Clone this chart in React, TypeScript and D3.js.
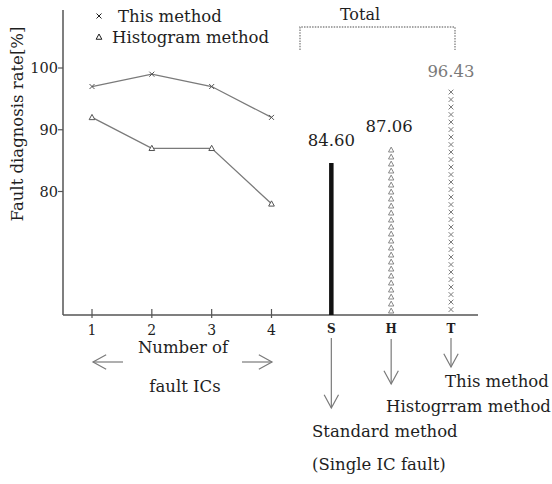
import React from 'react';
import * as d3 from 'd3';

// 故障 IC 数量（1〜4）
const icCounts = [1, 2, 3, 4];
const thisMethod = [97, 99, 97, 92];
const histogramMethod = [92, 87, 87, 78];

// 单一 IC 故障的总计
const totalLabels = ['S', 'H', 'T'];
const totalPositions = [5, 6, 7];
const totalValues = [84.6, 87.06, 96.43];

const yTicks = [80, 90, 100];

const W = 552;
const H = 484;
const FONT = '"DejaVu Serif", serif';
const GREY = '#7a7a7a';
const INK = '#1e1e1e';

const xMark = (s: number) => `M${-s},${-s}L${s},${s}M${-s},${s}L${s},${-s}`;
const triMark = (s: number) => `M0,${-s}L${s * 0.95},${s * 0.75}L${-s * 0.95},${s * 0.75}Z`;

const Arrow: React.FC<{ x1: number; y1: number; x2: number; y2: number }> = ({ x1, y1, x2, y2 }) => {
  const a = Math.atan2(y2 - y1, x2 - x1);
  const len = 15;
  const spread = 0.5;
  const p1 = [x2 - len * Math.cos(a - spread), y2 - len * Math.sin(a - spread)];
  const p2 = [x2 - len * Math.cos(a + spread), y2 - len * Math.sin(a + spread)];
  return (
    <g stroke={GREY} strokeWidth={1.2} fill="none">
      <line x1={x1} y1={y1} x2={x2} y2={y2} />
      <path d={`M${p1[0]},${p1[1]}L${x2},${y2}L${p2[0]},${p2[1]}`} />
    </g>
  );
};

const App: React.FC = () => {
  const x = d3.scaleLinear().domain([1, 7]).range([92, 451]);
  const y = d3.scaleLinear().domain([60, 100]).range([315, 68]);

  const axisX0 = 63;
  const axisX1 = 478;
  const baseY = y(60);

  const line = d3.line<number>().x((_, i) => x(icCounts[i])).y(d => y(d));

  // 柱状列上的标记：从数值处往下堆叠到基线
  const stack = (v: number, step: number) => d3.range(y(v) + 2, baseY - 1, step);

  return (
    <svg width={W} height={H} style={{ position: 'absolute', left: 0, top: 0, background: '#fff' }}
      fontFamily={FONT}>
      {/* 坐标轴 */}
      <line x1={axisX0} y1={10} x2={axisX0} y2={baseY} stroke="#555" strokeWidth={1.5} />
      <line x1={axisX0} y1={baseY} x2={axisX1} y2={baseY} stroke="#555" strokeWidth={1.5} />

      {yTicks.map(t => (
        <g key={t}>
          <line x1={axisX0 - 5} x2={axisX0} y1={y(t)} y2={y(t)} stroke="#555" strokeWidth={1.2} />
          <text x={axisX0 - 5} y={y(t) + 5} textAnchor="end" fontSize={14.5} fill={INK}>{t}</text>
        </g>
      ))}

      {icCounts.map(c => (
        <g key={c}>
          <line x1={x(c)} x2={x(c)} y1={baseY - 6} y2={baseY + 3} stroke="#555" strokeWidth={1.2} />
          <text x={x(c)} y={baseY + 20} textAnchor="middle" fontSize={14} fill={INK}>{c}</text>
        </g>
      ))}
      {totalLabels.map((l, i) => (
        <text key={l} x={x(totalPositions[i])} y={baseY + 18} textAnchor="middle" fontSize={12}
          fontWeight="bold" fill={INK}>{l}</text>
      ))}

      {/* y 轴标题 */}
      <text transform={`translate(23,124) rotate(-90)`} textAnchor="middle" fontSize={16.5} fill={INK}>
        Fault diagnosis rate[%]
      </text>

      {/* 折线 */}
      <path d={line(thisMethod) || ''} fill="none" stroke={GREY} strokeWidth={1.3} />
      <path d={line(histogramMethod) || ''} fill="none" stroke={GREY} strokeWidth={1.3} />
      {thisMethod.map((v, i) => (
        <path key={`t${i}`} d={xMark(2.5)} transform={`translate(${x(icCounts[i])},${y(v)})`}
          stroke="#555" strokeWidth={1} fill="none" />
      ))}
      {histogramMethod.map((v, i) => (
        <path key={`h${i}`} d={triMark(3)} transform={`translate(${x(icCounts[i])},${y(v)})`}
          stroke="#555" strokeWidth={1} fill="#fff" />
      ))}

      {/* 图例 */}
      <path d={xMark(2.5)} transform="translate(99,16)" stroke={INK} strokeWidth={1} fill="none" />
      <text x={118} y={22} fontSize={16.5} fill={INK}>This method</text>
      <path d={triMark(3)} transform="translate(99,37)" stroke={INK} strokeWidth={1} fill="none" />
      <text x={112} y={43} fontSize={16.5} fill={INK}>Histogram method</text>

      {/* 总计：S 粗线，H 三角列，T 叉列 */}
      <line x1={x(5)} x2={x(5)} y1={y(totalValues[0])} y2={baseY} stroke="#111" strokeWidth={4.5} />
      {stack(totalValues[1], 7).map((py, i) => (
        <path key={`hs${i}`} d={triMark(2.8)} transform={`translate(${x(6)},${py})`}
          stroke={GREY} strokeWidth={0.9} fill="none" />
      ))}
      {stack(totalValues[2], 7.5).map((py, i) => (
        <path key={`ts${i}`} d={xMark(2.4)} transform={`translate(${x(7)},${py})`}
          stroke={GREY} strokeWidth={1} fill="none" />
      ))}

      <text x={x(5)} y={y(totalValues[0]) - 17} textAnchor="middle" fontSize={16.5} fill={INK}>84.60</text>
      <text x={x(6) - 2} y={y(totalValues[1]) - 16} textAnchor="middle" fontSize={16.5} fill={INK}>87.06</text>
      <text x={x(7)} y={y(totalValues[2]) - 13} textAnchor="middle" fontSize={16.5} fill={GREY}>96.43</text>

      {/* Total 括号 */}
      <path d={`M300,50L300,27L455,27L455,50`} fill="none" stroke="#888" strokeWidth={1.4}
        strokeDasharray="1.5,1.2" />
      <text x={360} y={20} textAnchor="middle" fontSize={16} fill={INK}>Total</text>

      {/* 横轴说明 */}
      <text x={183} y={353} textAnchor="middle" fontSize={16.5} fill={INK}>Number of</text>
      <Arrow x1={123} y1={362} x2={93} y2={362} />
      <Arrow x1={242} y1={362} x2={272} y2={362} />
      <text x={185} y={392} textAnchor="middle" fontSize={16.5} fill={INK}>fault ICs</text>

      {/* 方法说明 */}
      <Arrow x1={x(5)} y1={338} x2={x(5)} y2={408} />
      <Arrow x1={x(6)} y1={339} x2={x(6)} y2={384} />
      <Arrow x1={x(7)} y1={338} x2={x(7)} y2={367} />
      <text x={445} y={387} fontSize={16.5} fill={INK}>This method</text>
      <text x={386} y={412} fontSize={16.5} fill={INK}>Histogrram method</text>
      <text x={312} y={437} fontSize={16.5} fill={INK}>Standard method</text>
      <text x={312} y={470} fontSize={16.5} fill={INK}>(Single IC fault)</text>
    </svg>
  );
};

export default App;
